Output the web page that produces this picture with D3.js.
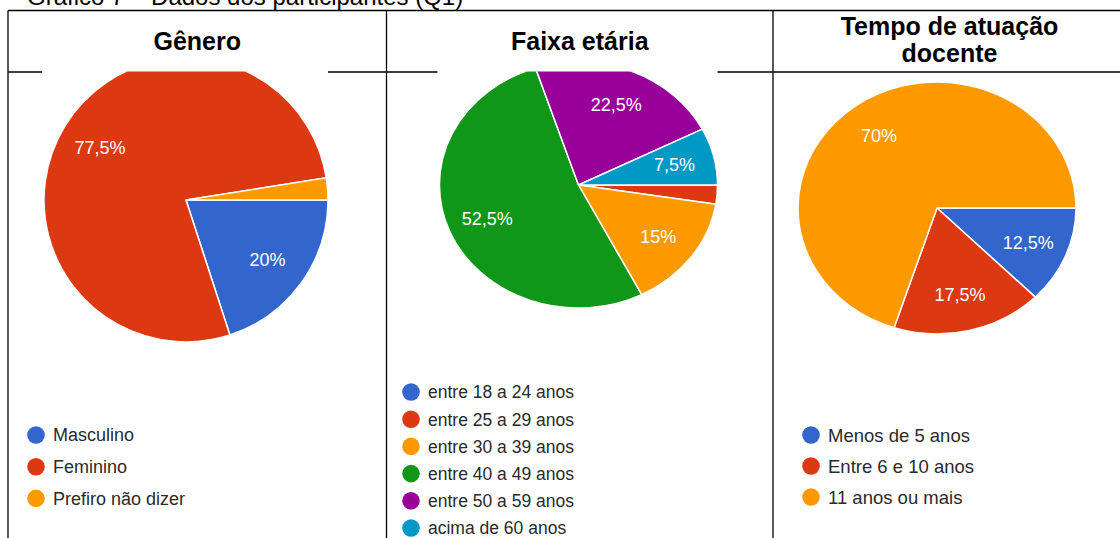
<!DOCTYPE html>
<html>
<head>
<meta charset="utf-8">
<script src="https://cdn.jsdelivr.net/npm/d3@7"></script>
<style>
  body { margin: 0; background: #fff; }
  svg { display: block; font-family: "Liberation Sans", Arial, sans-serif; }
</style>
</head>
<body>
<div id="chart"></div>
<script>
// Gráfico 7 - three Google Forms style pies side by side in a table

const colors = ["#3366cc", "#dc3912", "#ff9900", "#109618", "#990099", "#0099c6"];

const generoLabels = ["Masculino", "Feminino", "Prefiro não dizer"];
const generoValues = [20, 77.5, 2.5];

const faixaLabels = ["entre 18 a 24 anos", "entre 25 a 29 anos", "entre 30 a 39 anos",
                     "entre 40 a 49 anos", "entre 50 a 59 anos", "acima de 60 anos"];
const faixaValues = [0, 2.5, 15, 52.5, 22.5, 7.5];

const tempoLabels = ["Menos de 5 anos", "Entre 6 e 10 anos", "11 anos ou mais"];
const tempoValues = [12.5, 17.5, 70];

const W = 1120, H = 538;
const headerY = 72;
const colX = [8, 386.5, 773];

const svg = d3.select("#chart").append("svg")
  .attr("width", W)
  .attr("height", H);

// caption, mostly cut off by the top edge
svg.append("text")
  .attr("x", 27).attr("y", 5)
  .style("font-size", "24px")
  .attr("fill", "#000")
  .text("Gráfico 7 – Dados dos participantes (Q1)");

// table lines
const lines = svg.append("g").attr("stroke", "#000").attr("stroke-width", 1.3);
lines.append("line").attr("x1", colX[0]).attr("x2", W).attr("y1", 10.5).attr("y2", 10.5);
lines.append("line").attr("x1", colX[0]).attr("x2", W).attr("y1", headerY).attr("y2", headerY);
colX.forEach(x => {
  lines.append("line").attr("x1", x).attr("x2", x).attr("y1", 10.5).attr("y2", H);
});

// headers
const headers = [
  { cx: (colX[0] + colX[1]) / 2, lines: ["Gênero"], y0: 50 },
  { cx: (colX[1] + colX[2]) / 2, lines: ["Faixa etária"], y0: 50 },
  { cx: (colX[2] + W) / 2 + 3, lines: ["Tempo de atuação", "docente"], y0: 35 }
];
headers.forEach(h => {
  h.lines.forEach((t, i) => {
    svg.append("text")
      .attr("x", h.cx).attr("y", h.y0 + i * 27)
      .attr("text-anchor", "middle")
      .style("font-size", "25px")
      .style("font-weight", "bold")
      .attr("fill", "#000")
      .text(t);
  });
});

svg.append("defs").append("clipPath").attr("id", "below-header")
  .append("rect").attr("x", 0).attr("y", headerY - 0.5).attr("width", W).attr("height", H);

const pie = d3.pie().sort(null).value(d => d)
  .startAngle(Math.PI / 2).endAngle(Math.PI / 2 + 2 * Math.PI);
const arc = d3.arc().innerRadius(0).outerRadius(1);
const fmt = v => String(v).replace(".", ",") + "%";

function drawPie(values, cx, cy, rx, ry, coverLine) {
  if (coverLine) {
    // pie picture sits over the header rule
    svg.append("rect")
      .attr("x", cx - rx - 2).attr("y", headerY - 2)
      .attr("width", 2 * rx + 2).attr("height", 4)
      .attr("fill", "#fff");
  }
  const g = svg.append("g").attr("clip-path", "url(#below-header)");
  const arcs = pie(values);
  g.append("g")
    .attr("transform", `translate(${cx},${cy}) scale(${rx},${ry})`)
    .selectAll("path")
    .data(arcs)
    .join("path")
    .attr("d", arc)
    .attr("fill", (d, i) => colors[i])
    .attr("stroke", "#fff")
    .attr("stroke-width", 1.5)
    .attr("vector-effect", "non-scaling-stroke");

  const k = 0.71;
  g.selectAll("text.pct")
    .data(arcs.filter(d => d.value >= 5))
    .join("text")
    .attr("class", "pct")
    .attr("x", d => { const a = (d.startAngle + d.endAngle) / 2; return cx + Math.sin(a) * rx * k; })
    .attr("y", d => { const a = (d.startAngle + d.endAngle) / 2; return cy - Math.cos(a) * ry * k; })
    .attr("dy", "0.36em")
    .attr("text-anchor", "middle")
    .style("font-size", "18px")
    .attr("fill", "#fff")
    .text(d => fmt(d.value));
}

function drawLegend(labels, x, y0, step, size) {
  const g = svg.append("g");
  labels.forEach((t, i) => {
    g.append("circle")
      .attr("cx", x).attr("cy", y0 + i * step).attr("r", 8.8)
      .attr("fill", colors[i]);
    g.append("text")
      .attr("x", x + 17).attr("y", y0 + i * step)
      .attr("dy", "0.36em")
      .style("font-size", size + "px")
      .attr("fill", "#2a2a2a")
      .text(t);
  });
}

drawPie(generoValues, 186, 200, 142, 142, true);
drawPie(faixaValues, 578.5, 185, 139, 123, true);
drawPie(tempoValues, 937, 208, 139, 126, false);

drawLegend(generoLabels, 36, 435, 31.7, 18);
drawLegend(faixaLabels, 411, 392, 27.2, 17.5);
drawLegend(tempoLabels, 811, 435, 31, 18.5);
</script>
</body>
</html>
